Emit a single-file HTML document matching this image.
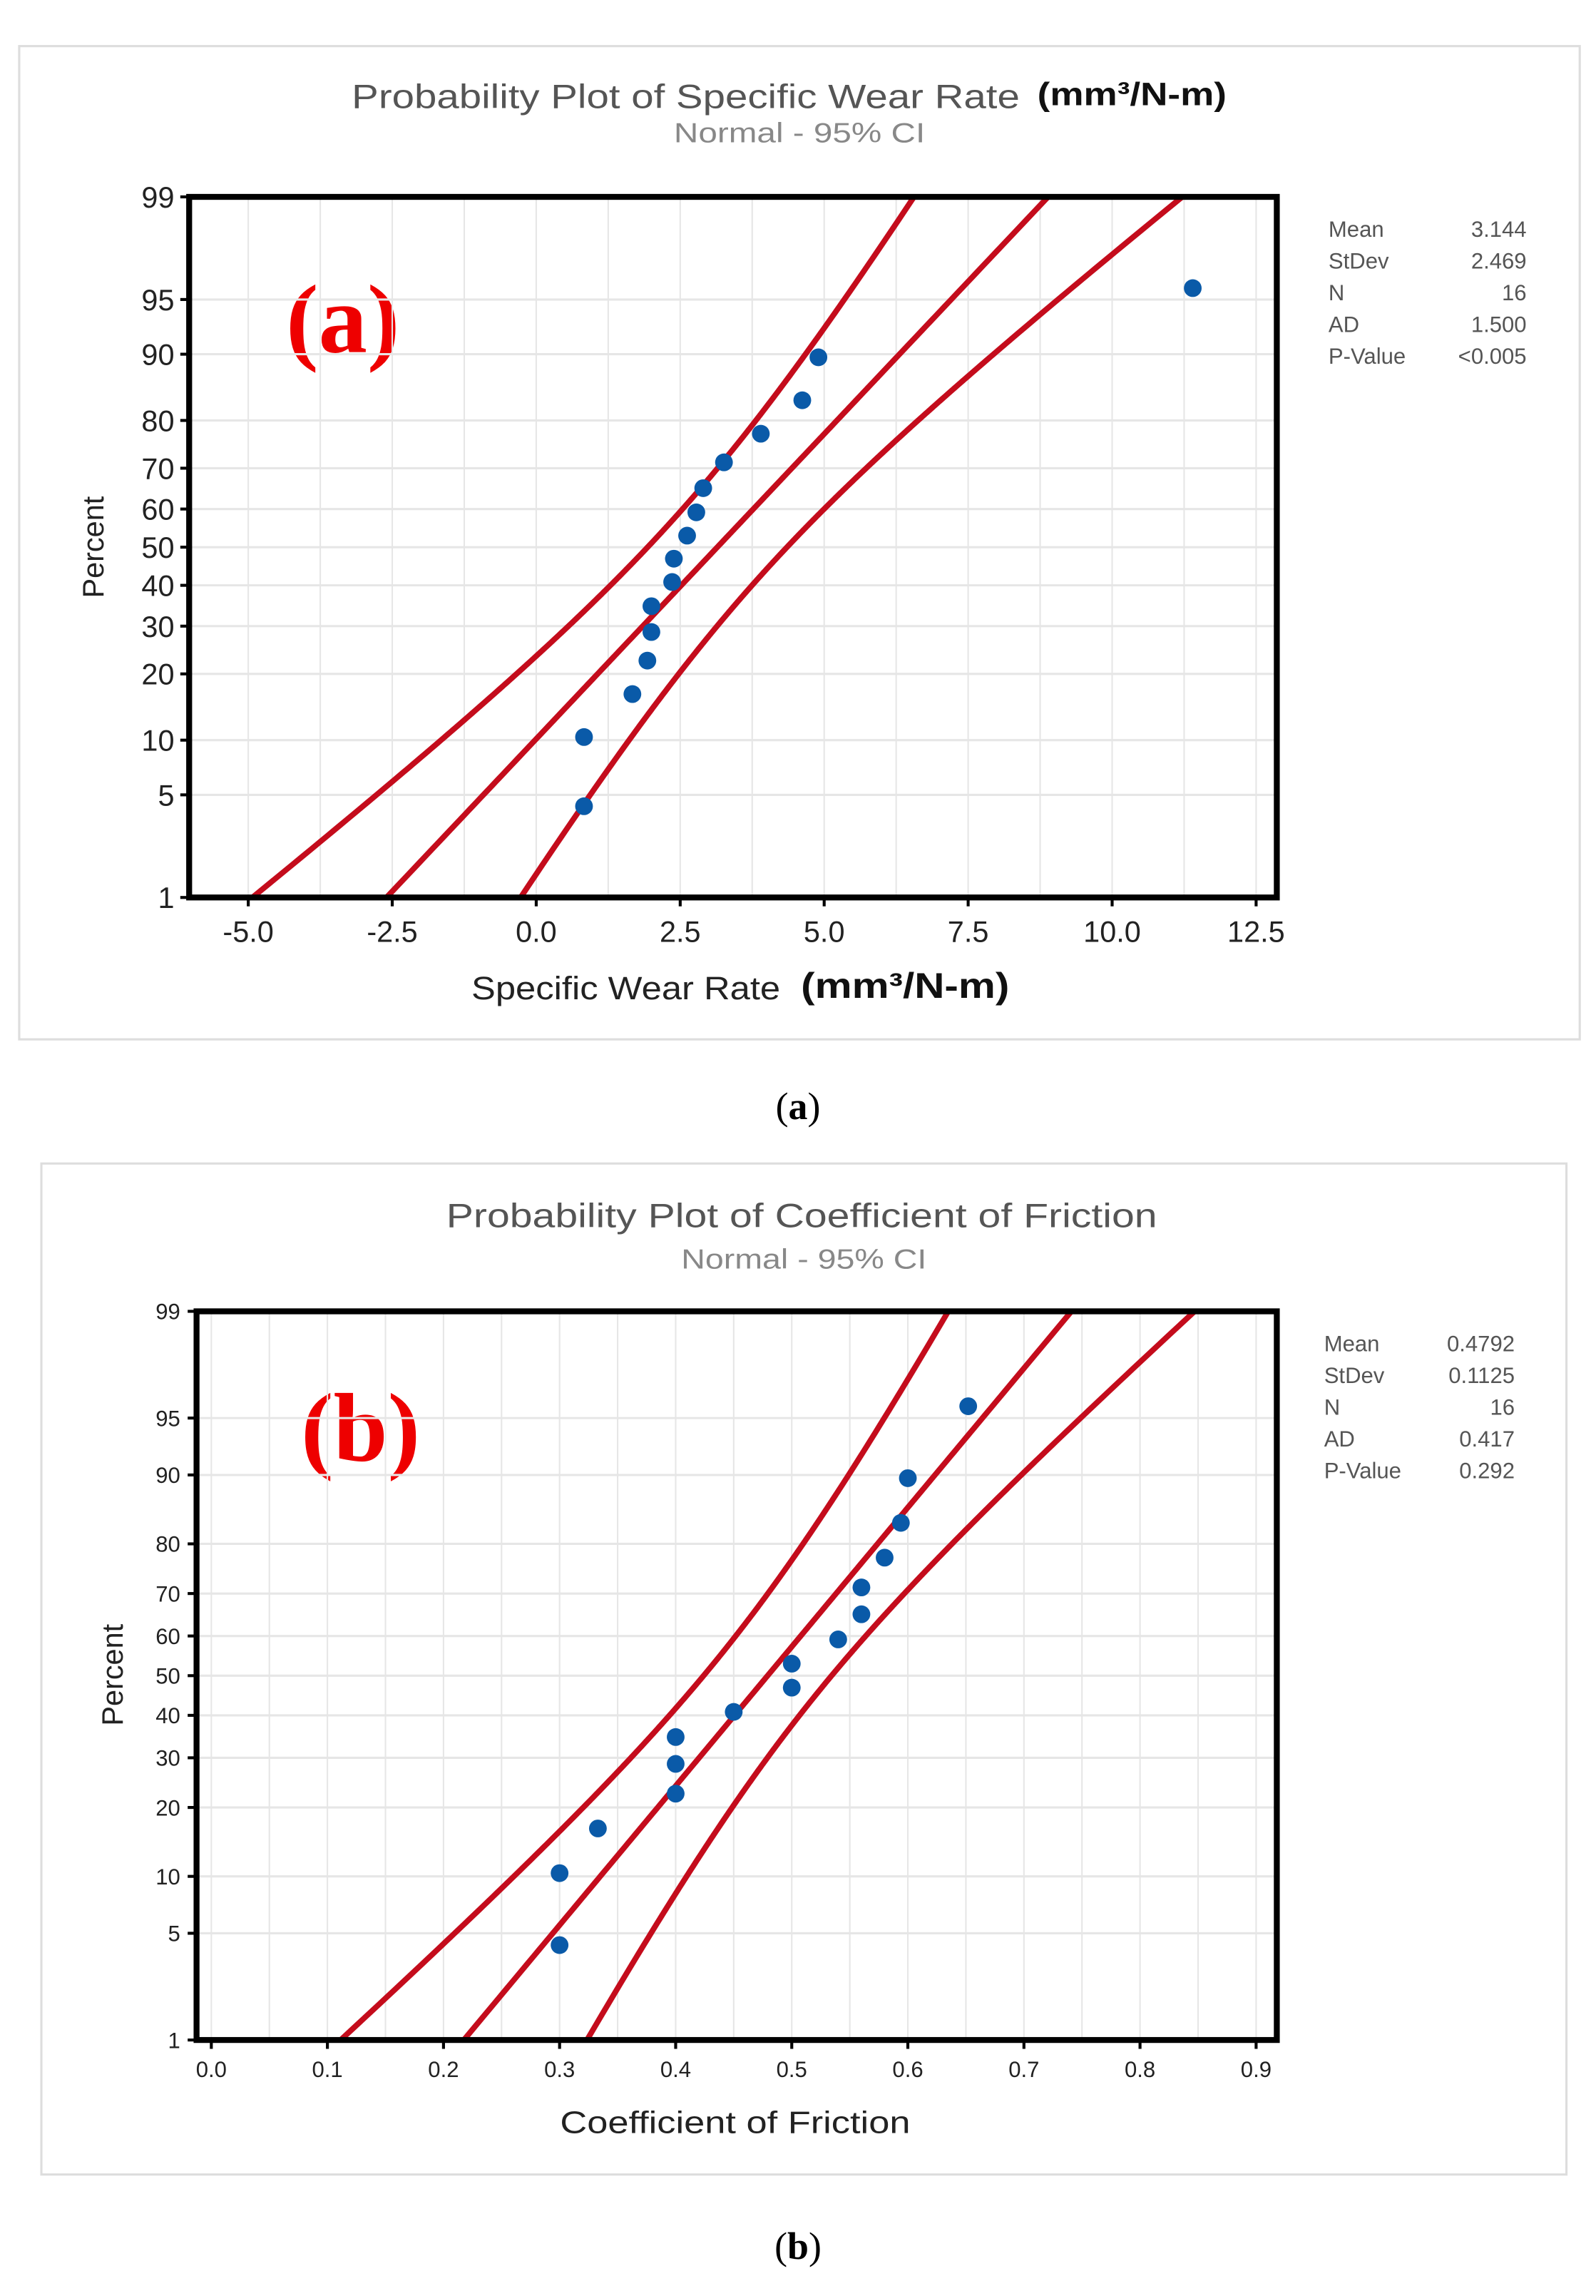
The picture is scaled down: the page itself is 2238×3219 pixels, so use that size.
<!DOCTYPE html>
<html><head><meta charset="utf-8"><style>
html,body{margin:0;padding:0;background:#fff}
svg{display:block}
text{font-family:"Liberation Sans",sans-serif}
</style></head><body>
<svg id="chart" width="2238" height="3219" viewBox="0 0 1080 1553" xmlns="http://www.w3.org/2000/svg">
<rect width="1080" height="1553" fill="#fff"/>
<g id="pa">
<rect x="13" y="31" width="1056" height="672" fill="#fff" stroke="#ddd" stroke-width="1.5"/>
<text x="238" y="73" textLength="452" lengthAdjust="spacingAndGlyphs" font-size="23" fill="#555">Probability Plot of Specific Wear Rate</text>
<text x="702" y="71" textLength="128" lengthAdjust="spacingAndGlyphs" font-size="22" font-weight="bold" fill="#111">(mm³/N-m)</text>
<text x="456" y="96" textLength="170" lengthAdjust="spacingAndGlyphs" font-size="19" fill="#888">Normal - 95% CI</text>
<text x="232" y="238" text-anchor="middle" font-size="66" font-weight="bold" fill="#e00" style="font-family:'Liberation Serif',serif">(a)</text>
<text x="319" y="676" textLength="209" lengthAdjust="spacingAndGlyphs" font-size="22" fill="#222">Specific Wear Rate</text>
<text x="542" y="675" textLength="141" lengthAdjust="spacingAndGlyphs" font-size="24" font-weight="bold" fill="#111">(mm³/N-m)</text>
<text transform="translate(70,370) rotate(-90)" text-anchor="middle" font-size="20" fill="#222">Percent</text>
</g>
<g id="pb">
<rect x="28" y="787" width="1032" height="684" fill="#fff" stroke="#ddd" stroke-width="1.5"/>
<text x="302" y="830" textLength="481" lengthAdjust="spacingAndGlyphs" font-size="23" fill="#555">Probability Plot of Coefficient of Friction</text>
<text x="461" y="858" textLength="166" lengthAdjust="spacingAndGlyphs" font-size="19" fill="#888">Normal - 95% CI</text>
<text x="244" y="988" text-anchor="middle" font-size="66" font-weight="bold" fill="#e00" style="font-family:'Liberation Serif',serif">(b)</text>
<text x="379" y="1443" textLength="237" lengthAdjust="spacingAndGlyphs" font-size="21" fill="#222">Coefficient of Friction</text>
<text transform="translate(83,1133) rotate(-90)" text-anchor="middle" font-size="20" fill="#222">Percent</text>
</g>
<text x="540" y="757" text-anchor="middle" font-size="26" fill="#000" style="font-family:'Liberation Serif',serif">(<tspan font-weight="bold">a</tspan>)</text>
<text x="540" y="1528" text-anchor="middle" font-size="26" fill="#000" style="font-family:'Liberation Serif',serif">(<tspan font-weight="bold">b</tspan>)</text>
</svg>
<script>
const NS="http://www.w3.org/2000/svg";
// Panel A data
const aValues=[0.83,0.83,1.67,1.93,2.0,2.0,2.36,2.39,2.62,2.78,2.90,3.26,3.90,4.62,4.90,11.40];
const aStatLabels=["Mean","StDev","N","AD","P-Value"];
const aStatValues=["3.144","2.469","16","1.500","<0.005"];
const aMean=3.144, aSd=2.469, aN=16;
const aXTicks=[-5.0,-2.5,0.0,2.5,5.0,7.5,10.0,12.5];
const aXTickLabels=["-5.0","-2.5","0.0","2.5","5.0","7.5","10.0","12.5"];
// Panel B data
const bValues=[0.30,0.30,0.333,0.40,0.40,0.40,0.45,0.50,0.50,0.54,0.56,0.56,0.58,0.594,0.60,0.652];
const bStatLabels=["Mean","StDev","N","AD","P-Value"];
const bStatValues=["0.4792","0.1125","16","0.417","0.292"];
const bMean=0.4792, bSd=0.1125, bN=16;
const bXTicks=[0.0,0.1,0.2,0.3,0.4,0.5,0.6,0.7,0.8,0.9];
const bXTickLabels=["0.0","0.1","0.2","0.3","0.4","0.5","0.6","0.7","0.8","0.9"];
const yTicks=[1,5,10,20,30,40,50,60,70,80,90,95,99];

function invNorm(p){const a=[-39.6968302866538,220.946098424521,-275.928510446969,138.357751867269,-30.6647980661472,2.50662827745924],b=[-54.4760987982241,161.585836858041,-155.698979859887,66.8013118877197,-13.2806815528857],c=[-0.00778489400243029,-0.322396458041136,-2.40075827716184,-2.54973253934373,4.37466414146497,2.93816398269878],d=[0.00778469570904146,0.32246712907004,2.445134137143,3.75440866190742];const pl=0.02425;let q,r;if(p<pl){q=Math.sqrt(-2*Math.log(p));return(((((c[0]*q+c[1])*q+c[2])*q+c[3])*q+c[4])*q+c[5])/((((d[0]*q+d[1])*q+d[2])*q+d[3])*q+1);}if(p>1-pl){q=Math.sqrt(-2*Math.log(1-p));return-(((((c[0]*q+c[1])*q+c[2])*q+c[3])*q+c[4])*q+c[5])/((((d[0]*q+d[1])*q+d[2])*q+d[3])*q+1);}q=p-0.5;r=q*q;return(((((a[0]*r+a[1])*r+a[2])*r+a[3])*r+a[4])*r+a[5])*q/(((((b[0]*r+b[1])*r+b[2])*r+b[3])*r+b[4])*r+1);}
function mk(parent,tag,attrs){const e=document.createElementNS(NS,tag);for(const k in attrs)e.setAttribute(k,attrs[k]);parent.appendChild(e);return e;}

function panel(g,cfg){
 const {L,R,T,B,x0,x1,values,mean,sd,n,xt,xtl,grid,statL,statV,sx,sxr,sy,tickFs,yLabX,pre}=cfg;
 const zMax=invNorm(0.99), yc=(T+B)/2, ys=(B-T)/2/zMax;
 const X=v=>L+(cfg.xa)+(v-x0)/(x1-x0)*(cfg.xb-cfg.xa);
 const Y=p=>yc-invNorm(p/100)*ys;
 for(let v=grid[0];v<=grid[1]+1e-9;v+=grid[2]){const px=X(v);if(px<=L||px>=R)continue;
  const l=mk(g,'line',{x1:px,x2:px,y1:T,y2:B,stroke:'#e6e6e6','stroke-width':1});
  
  }
 yTicks.forEach(p=>{const py=Y(p);
  const l=mk(g,'line',{x1:L,x2:R,y1:py,y2:py,stroke:'#e6e6e6','stroke-width':1.5});
  
  
  const tk=mk(g,'line',{x1:L-6,x2:L,y1:py,y2:py,stroke:'#000','stroke-width':2});
  
  
  const t=mk(g,'text',{x:yLabX,y:py+tickFs*0.36,'text-anchor':'end','font-size':tickFs,fill:'#222'});
  t.textContent=p;
  
  });
 xt.forEach((v,i)=>{const px=X(v);
  const tk=mk(g,'line',{x1:px,x2:px,y1:B,y2:B+6,stroke:'#000','stroke-width':2});
  
  
  const t=mk(g,'text',{x:px,y:B+cfg.xlabDy,'text-anchor':'middle','font-size':tickFs,fill:'#222'});
  t.textContent=xtl[i];
  
  });
 const cp=mk(g,'clipPath',{id:pre+'clip'});mk(cp,'rect',{x:L,y:T,width:R-L,height:B-T});
 const mkLine=(k,name)=>{let d='';for(let p=0.5;p<=99.5;p+=0.25){const z=invNorm(p/100);const se=sd/Math.sqrt(n)*Math.sqrt(1+z*z/2);const v=mean+sd*z+k*1.96*se;d+=(d?'L':'M')+X(v).toFixed(2)+','+Y(p).toFixed(2);}
  const e=mk(g,'path',{d,fill:'none',stroke:'#c40c1c','stroke-width':3.8,'clip-path':'url(#'+pre+'clip)'});
  
  };
 mkLine(-1,pre+'ci-lower');mkLine(0,pre+'fit-line');mkLine(1,pre+'ci-upper');
 const sorted=values.slice().sort((a,b)=>a-b);
 sorted.forEach((v,i)=>{const p=(i+1-0.3)/(sorted.length+0.4)*100;
  const c=mk(g,'circle',{cx:X(v),cy:Y(p),r:6,fill:'#0a5aa8'});
  
  });
 const fr=mk(g,'rect',{x:L,y:T,width:R-L,height:B-T,fill:'none',stroke:'#000','stroke-width':4});
 
 
 statL.forEach((s,i)=>{const yy=sy+i*21.5;
  const t=mk(g,'text',{x:sx,y:yy,'font-size':15,fill:'#555'});t.textContent=s;
  
  
  const t2=mk(g,'text',{x:sxr,y:yy,'font-size':15,fill:'#555','text-anchor':'end'});t2.textContent=statV[i];
  
  });
}
panel(document.getElementById('pa'),{L:128,R:864,T:133,B:607,x0:-5,x1:12.5,xa:40,xb:722,values:aValues,mean:aMean,sd:aSd,n:aN,xt:aXTicks,xtl:aXTickLabels,grid:[-6.25,13.75,1.25],statL:aStatLabels,statV:aStatValues,sx:899,sxr:1033,sy:160,tickFs:20,yLabX:118,xlabDy:30,pre:'a-'});
panel(document.getElementById('pb'),{L:133,R:864,T:887,B:1380,x0:0,x1:0.9,xa:10,xb:717,values:bValues,mean:bMean,sd:bSd,n:bN,xt:bXTicks,xtl:bXTickLabels,grid:[0,0.95,0.05],statL:bStatLabels,statV:bStatValues,sx:896,sxr:1025,sy:914,tickFs:15,yLabX:122,xlabDy:25,pre:'b-'});
</script>
</body></html>
